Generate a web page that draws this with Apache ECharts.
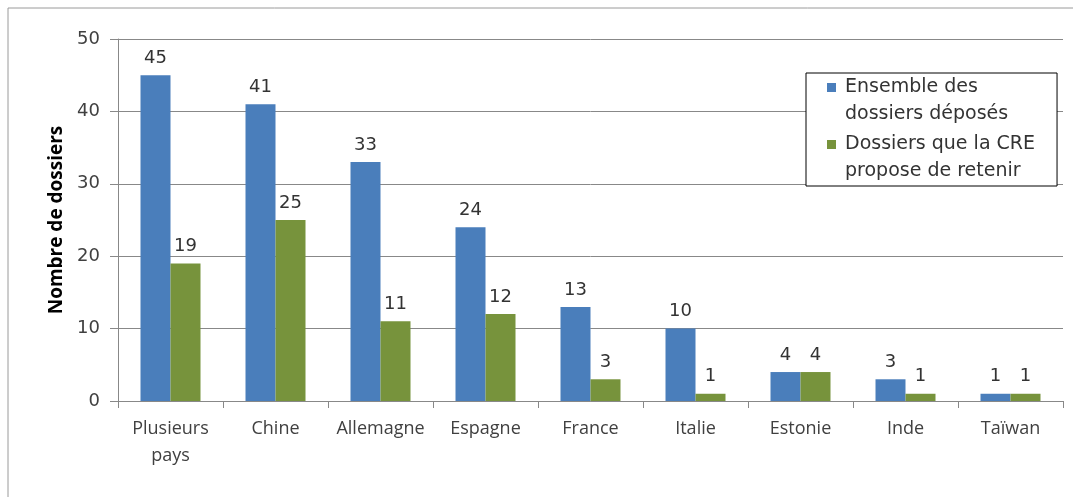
<!DOCTYPE html>
<html>
<head>
<meta charset="utf-8">
<script src="https://cdn.jsdelivr.net/npm/echarts@6/dist/echarts.min.js"></script>
<style>
  html, body { margin: 0; padding: 0; background: #fff; }
  #chart { width: 1073px; height: 497px; }
</style>
</head>
<body>
<div id="chart"></div>
<script>
const categories = ['Plusieurs\npays', 'Chine', 'Allemagne', 'Espagne', 'France', 'Italie', 'Estonie', 'Inde', 'Taïwan']
const deposes = [45, 41, 33, 24, 13, 10, 4, 3, 1]
const retenus = [19, 25, 11, 12, 3, 1, 4, 1, 1]
const yTicks = [0, 10, 20, 30, 40, 50]

const chart = echarts.init(document.getElementById('chart'))

const labelStyle = {
  show: true,
  position: 'top',
  distance: 8,
  fontFamily: 'DejaVu Sans',
  fontSize: 18,
  color: '#333'
}

const legendText = {
  'Ensemble des dossiers déposés': '{b|}{p|}{t|Ensemble des}\n{s|}{p|}{t|dossiers déposés}',
  'Dossiers que la CRE propose de retenir': '{g|}{p|}{t|Dossiers que la CRE}\n{s|}{p|}{t|propose de retenir}'
}

const option = {
  animation: false,
  textStyle: { fontFamily: 'DejaVu Sans' },
  graphic: [{
    type: 'rect',
    shape: { x: 8, y: 8, width: 1080, height: 500 },
    style: { fill: 'none', stroke: '#9a9a9a', lineWidth: 1 },
    silent: true
  }],
  grid: { left: 118, right: 10, top: 39, bottom: 96 },
  legend: {
    orient: 'vertical',
    left: 806,
    top: 73,
    padding: [1, 22, 1, 16],
    itemGap: 3,
    itemWidth: 0,
    itemHeight: 54,
    icon: 'rect',
    backgroundColor: '#fff',
    borderColor: '#000',
    borderWidth: 1,
    formatter: name => legendText[name],
    textStyle: {
      rich: {
        t: { fontFamily: 'DejaVu Sans', fontSize: 19, color: '#333', lineHeight: 27 },
        b: { width: 9, height: 9, backgroundColor: '#4a7ebb' },
        g: { width: 9, height: 9, backgroundColor: '#77933c' },
        s: { width: 9, height: 9 },
        p: { width: 9, height: 9 }
      }
    },
    data: ['Ensemble des dossiers déposés', 'Dossiers que la CRE propose de retenir']
  },
  xAxis: {
    type: 'category',
    data: categories,
    axisLine: { lineStyle: { color: '#888' } },
    axisTick: { show: true, length: 7, lineStyle: { color: '#888' } },
    axisLabel: {
      interval: 0,
      margin: 14,
      fontFamily: 'Open Sans',
      fontSize: 18,
      lineHeight: 27,
      color: '#404040'
    }
  },
  yAxis: {
    type: 'value',
    min: 0,
    max: 50,
    interval: 10,
    name: 'Nombre de dossiers',
    nameLocation: 'middle',
    nameGap: 50,
    nameTextStyle: { fontFamily: 'Open Sans', fontWeight: 'bold', fontSize: 19, color: '#000' },
    axisLine: { show: true, lineStyle: { color: '#888' } },
    axisTick: { show: true, length: 8, lineStyle: { color: '#888' } },
    axisLabel: {
      margin: 18,
      fontFamily: 'DejaVu Sans',
      fontSize: 18,
      color: '#404040',
      formatter: v => yTicks.includes(v) ? String(v) : ''
    },
    splitLine: { lineStyle: { color: '#888' } }
  },
  series: [
    {
      name: 'Ensemble des dossiers déposés',
      type: 'bar',
      data: deposes,
      barWidth: 30,
      barGap: '0%',
      itemStyle: { color: '#4a7ebb' },
      label: labelStyle
    },
    {
      name: 'Dossiers que la CRE propose de retenir',
      type: 'bar',
      data: retenus,
      barWidth: 30,
      itemStyle: { color: '#77933c' },
      label: labelStyle
    }
  ]
}

chart.setOption(option)
</script>
</body>
</html>
